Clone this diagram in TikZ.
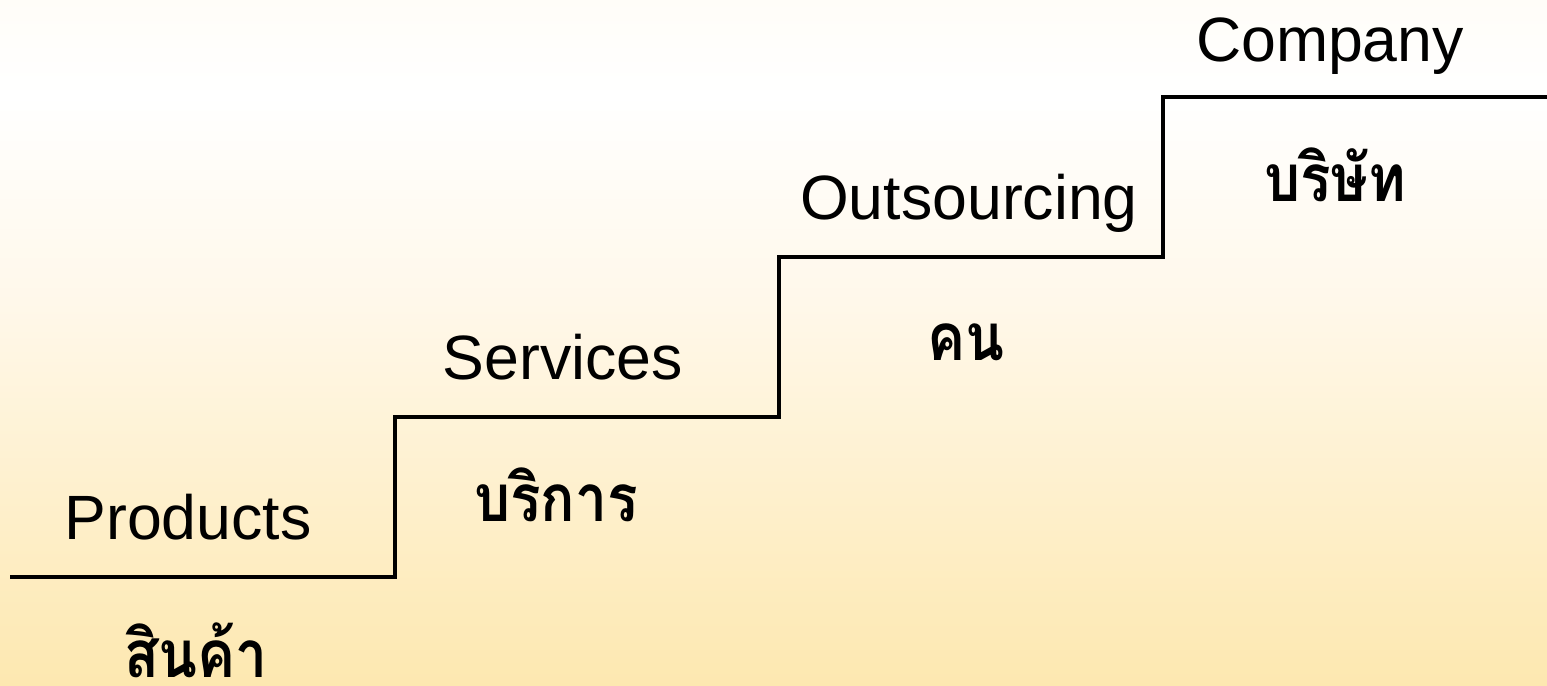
\documentclass[tikz,border=0pt]{standalone}
\usepackage{graphicx}
\usepackage{fontspec}
\setmainfont{Liberation Sans}
\newfontfamily\thaifont[Script=Thai]{Loma}
\definecolor{bgbottom}{RGB}{253,232,176}
\definecolor{bgmid}{RGB}{255,248,234}
\definecolor{bgtop}{RGB}{255,253,248}
\pgfdeclareverticalshading{bgfade}{100bp}{color(0bp)=(bgbottom); color(25bp)=(bgbottom); color(53bp)=(bgmid); color(68bp)=(white); color(75bp)=(bgtop); color(100bp)=(bgtop)}
\newcommand{\thaitext}[1]{\scalebox{1}[1.15]{#1}}

\begin{document}
\begin{tikzpicture}[x=0.01cm,y=-0.01cm]
  \tikzset{
    eng/.style={anchor=base,inner sep=0pt,font=\fontsize{17.8}{20}\selectfont},
    thai/.style={anchor=base,inner sep=0pt,font=\thaifont\bfseries\fontsize{16.2}{19}\selectfont}
  }
  \shade[shading=bgfade] (0,0) rectangle (1547,686);
  \useasboundingbox (0,0) rectangle (1547,686);
  % staircase
  \coordinate (s0) at (10,577);
  \coordinate (s1) at (395,577);
  \coordinate (s2) at (395,417);
  \coordinate (s3) at (779,417);
  \coordinate (s4) at (779,257);
  \coordinate (s5) at (1163,257);
  \coordinate (s6) at (1163,97);
  \coordinate (s7) at (1547,97);
  \draw[line width=0.9pt] (s0) -- (s1) -- (s2) -- (s3) -- (s4) -- (s5) -- (s6) -- (s7);
  % english labels
  \node[eng] (prod) at (188,540) {Products};
  \node[eng] (serv) at (563,380) {Services};
  \node[eng] (outs) at (969,220) {Outsourcing};
  \node[eng] (comp) at (1330,62) {Company};
  % thai labels
  \node[thai] (sinkha) at (196,678) {\thaitext{สินค้า}};
  \node[thai] (borikan) at (556,522) {\thaitext{บริการ}};
  \node[thai] (khon) at (966,361) {\thaitext{คน}};
  \node[thai] (borisat) at (1335,202) {\thaitext{บริษัท}};
\end{tikzpicture}
\end{document}
